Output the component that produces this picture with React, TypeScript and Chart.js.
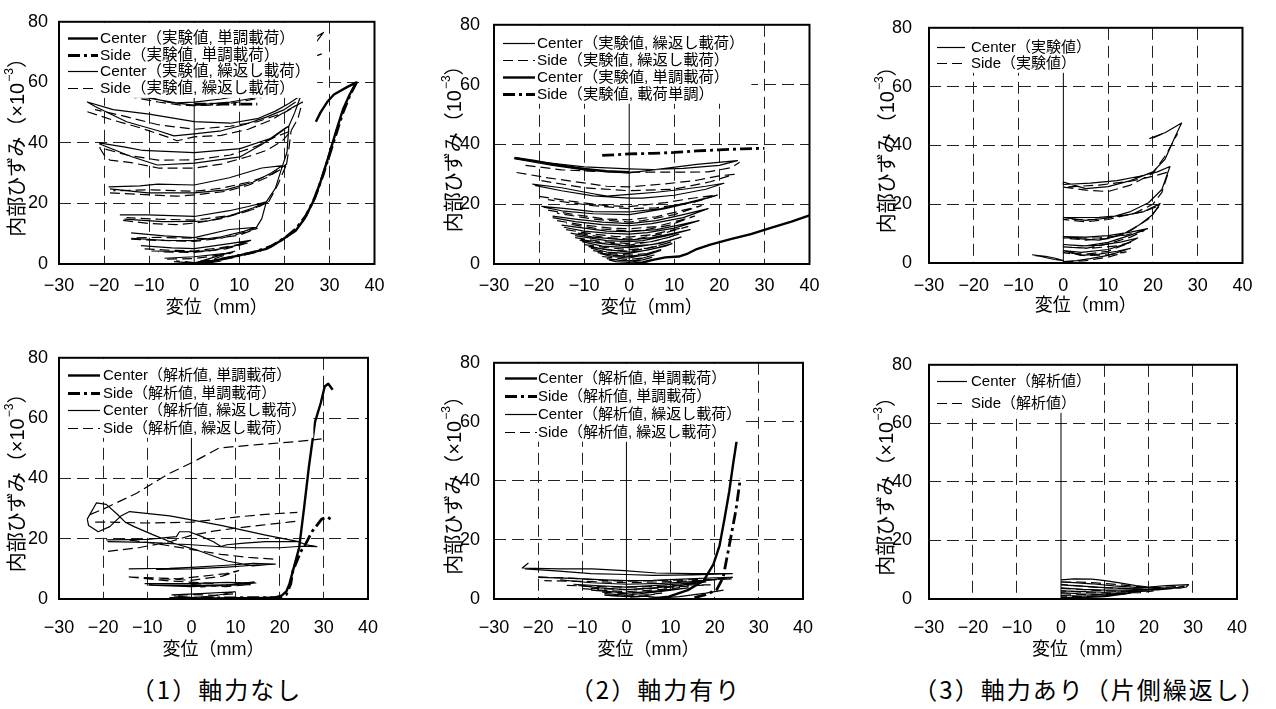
import React, { useEffect, useRef } from "react";
import { Chart, registerables } from "chart.js";
Chart.register(...registerables);

type Pt = [number, number] | null;

const FONT = "'Liberation Sans', 'Noto Sans CJK JP', sans-serif";
const CJK = "'Noto Sans CJK JP', 'Liberation Sans', sans-serif";

// ---------- axis ticks ----------
const xMin = -30, xMax = 40, xStep = 10;
const yMin = 0, yMax = 80, yStep = 20;
const zeroLine: Pt[] = [[0, 0], [0, 80]];

// ---------- legend labels ----------
const labelsP1 = ["Center（実験値, 単調載荷）", "Side（実験値, 単調載荷）", "Center（実験値, 繰返し載荷）", "Side（実験値, 繰返し載荷）"];
const labelsP2 = ["Center（実験値, 繰返し載荷）", "Side（実験値, 繰返し載荷）", "Center（実験値, 単調載荷）", "Side（実験値, 載荷単調）"];
const labelsP3 = ["Center（実験値）", "Side（実験値）"];
const labelsP4 = ["Center（解析値, 単調載荷）", "Side（解析値, 単調載荷）", "Center（解析値, 繰返し載荷）", "Side（解析値, 繰返し載荷）"];
const labelsP6 = ["Center（解析値）", "Side（解析値）"];
const captions = ["（1）軸力なし", "（2）軸力有り", "（3）軸力あり（片側繰返し）"];

// ---------- Panel 1 : experiment, no axial force ----------
const p1CenterMono: Pt[] = [[0,0],[4,1],[8,2.2],[12,3.5],[16,5],[19,7.5],[22.5,11],[24.5,15],[26.5,21],[28,27],[29.8,35.5],[31.5,44],[33,51],[34.5,56],[36,60],[34,58.5],[31,56],[29.5,53.5],[28,50],[27,47]];
const p1SideMono: Pt[] = [[1,0.3],[5,1.3],[9,2.5],[13,3.8],[17,5.8],[20,8.5],[22.5,11.5],[24.8,16],[26.8,22],[28.5,29],[30,36],[31.5,43],[33,50],[34.5,55.5],[36,60],null,[0,52.8],[7,52.8],[14,52.8]];
const p1CenterCyc: Pt[] = [
  [23.5,55.5],[21,53],[18,50.5],[14,48],[8,46.5],[0,47],[-10,49.5],[-18,51],[-23.7,53.5],[-22,52],[-15,47],[-8,44],[-4.5,42.3],[0,43],[6,44],[11,46],[16,48.5],[20,51],[22.5,53.5],null,
  [-16,55.5],[-10,54.8],[-4,53.2],[0,53.5],[6,54.5],[12,56],null,[-12,56],[-6,53.5],[0,52.5],[8,53.5],[14,55],[20,56.5],null,
  [-21.1,40],[-15,38.5],[-11.4,37.5],[0,36.8],[10.2,38.1],[17.5,41.8],[21,45.6],[20.3,45],[15,39.5],[10.2,35.4],[0.1,33.3],[-8.2,32.7],[-14,35.5],[-21.1,39.7],null,
  [21,45.6],[22.3,50],[23.5,55],null,
  [-19,25.5],[-12,25.8],[-8.1,26.4],[0,26.1],[7.8,28.5],[15,31.7],[19.6,32.5],[17,30],[13,27],[7,24.5],[0,23.5],[-10.3,23.5],[-18.7,24.8],null,
  [19.6,32.5],[20.6,37],[21,45.6],null,
  [-16.5,16.2],[-10.3,16.2],[0,15.7],[7.8,17.6],[12,19],[16,20.5],[13,18.5],[8,16],[3,14.2],[0,14.1],[-7,14],[-15.5,14.8],null,
  [16,20.5],[18,25],[19.6,32.5],null,
  [-14,10.3],[-6.6,9.3],[0,8.7],[7.8,11.4],[13.8,12.1],[11,10.8],[6,9],[0,7.7],[-6.6,7.8],[-14,8.5],null,
  [13.8,12.1],[15,15],[16,20.5],null,
  [-11.8,6.1],[-5,5.3],[0,5.1],[7.8,6.7],[12.5,7.8],[9,6],[4,4.5],[0,4.1],[-9.5,4.3],null,
  [-6.6,1.9],[0,2.4],[7,3.5],[9,4.2],[5,2.5],[0,0.3],[-4.5,0.8],null,
  [-3,0.2],[3,0.3],[6,1],null,
  [26.2,74.3],[28.7,76.5],[25.9,71]
];
const p1SideCyc: Pt[] = [
  [-23.7,50.3],[-18,47.5],[-12,45],[-6,42],[-3.8,40.7],[0,42],[6,42.5],[12,44.5],[17,47.5],[21,51],[24,53.5],[20,50],[14,47],[8,45.5],[0,44.5],[-8,46],[-16,49],[-22,51],null,
  [-15,55.5],[-8,53.5],[-3,52.5],[0,52.3],[5,52.5],[10,53.5],[15,55],null,
  [-21,38.5],[-20,36],[-18.7,34.3],[-14,33.5],[-8,31.7],[0,31.7],[6,33],[12,35.5],[16,37.5],[19.6,40.7],[21.5,44],[18,42],[14,39],[8,36],[0,34.4],[-8,34.3],[-15,36],[-21,38.5],null,
  [21.5,44],[23,48],[24,53.5],null,
  [-18.7,23.5],[-12,23],[-3.8,22.4],[0,22.8],[7,24],[12,26],[16,28.5],[19.5,31.5],[20.5,33],[17,29.5],[12,27],[6,25],[0,24],[-10,24.5],[-18,24.2],null,
  [20.5,33],[21,38],[21.5,44],null,
  [-15.8,14.4],[-10,13.4],[-4,13],[0,13.5],[6,15],[12,17.5],[16.5,20.5],[13,18],[8,16],[0,14.5],[-8,14.8],[-15,15.3],null,
  [16.5,20.5],[18.5,26],[20.5,33],null,
  [-14,8.2],[-8,7.8],[0,7.5],[6,8.5],[10,10],[14,11.8],[10,9.5],[4,8.3],[0,8.5],[-8,8.8],[-13.5,8.6],null,
  [-11,5],[-5,4.5],[0,4.3],[6,5.4],[12,7],[7,5],[0,3.8],[-8,4],null,
  [-6,1.6],[0,1.8],[6,3],[8.5,3.8],[4,1.5],[0,0.5],[-4,1],null,
  [-2,0.4],[4,0.5],null,
  [26.6,68.5],[28.3,69.4],null,[26,65.5],[27,66.5]
];

// ---------- Panel 2 : experiment, with axial force ----------
const p2CenterCyc: Pt[] = [
  [-25.5,35.2],[-17,33],[-10,31.5],[0,30.5],[8,32],[15,33.3],[24,34.6],[20,33],[12,32],[5,31.6],[0,31.8],[-10,32.5],[-20,34.2],[-25,35.5],null,
  [-21.5,26.7],[-15,25.5],[-8,23.5],[-4.9,22.7],[0,23.3],[6,24],[12,25],[17,26],[21,27],[17,25],[10,23],[3,22],[0,22],[-8,22.8],[-15,24.5],[-21,26.3],null,
  [-19.5,19.3],[-14,18.5],[-8,17.5],[0,17.4],[7,18.5],[13,20.5],[19.5,23],[15,21],[8,18.5],[0,16.5],[-8,16.8],[-15,17.8],[-19,19],null,
  [-17,16],[-12,15],[-6,14],[0,13.5],[6,14.5],[12,16.5],[17.5,18.5],[12,15.5],[5,13.5],[0,12.8],[-6,13.2],[-12,14.2],[-17,15.5],null,
  [-15,13],[-10,12],[-5,11],[0,10.8],[6,11.5],[11,13],[15.5,14.5],[10,12],[4,10.5],[0,10],[-5,10.3],[-10,11],[-14.5,12.3],null,
  [-13,10.3],[-8,9],[-3,8.3],[0,8],[5,8.8],[10,10.3],[13.5,11.5],[8,9.3],[3,7.8],[0,7.5],[-5,7.8],[-12,9.5],null,
  [-11,8],[-6,6.8],[0,6],[5,6.5],[9,7.8],[11.5,9],[7,7],[2,5.8],[0,5.5],[-6,6],[-10.5,7.5],null,
  [-9,5.8],[-5,4.8],[0,4],[4,4.6],[8,6],[9.5,6.8],[5,5],[0,3.5],[-5,4],[-8.5,5.3],null,
  [-7,3.8],[-3,2.8],[0,2.5],[4,3],[7,4.5],[4,3.2],[0,2],[-4,2.5],[-6.5,3.5],null,
  [-5,1.8],[-2,1.2],[0,1],[3,1.4],[5,2.2],[2,1],[0,0.5],[-3,0.8],[-4.5,1.4]
];
const p2SideCyc: Pt[] = [
  [-23,33],[-15,31.5],[-8,31],[0,30.7],[10,30.7],[17.5,30.8],[22.6,32.2],[24.5,34],null,
  [-25,30.6],[-18,28.8],[-11.4,27.4],[-5,26],[0,25.8],[8,26.8],[15,28],[20,29.5],[23.3,30],[18,27.5],[10,25],[0,24.5],[-10,25.5],[-20,28],null,
  [-20,22.6],[-13,21],[-5,19.5],[0,19.2],[8,20.5],[14,22],[19.6,23.1],[14,20.5],[6,18.8],[0,18.5],[-8,19.5],[-18,21.5],null,
  [-18,18],[-12,16.5],[-5,15],[0,14.8],[6,15.8],[12,18],[16,19.5],[10,16.5],[3,14.5],[0,14],[-8,15],[-16,17],null,
  [-16,14.5],[-10,13],[-4,12],[0,11.8],[6,12.5],[11,14.5],[14.5,16],[9,13],[3,11.3],[0,11],[-7,11.8],[-14,13.5],null,
  [-14,11.5],[-8,10],[-3,9.2],[0,9],[5,9.8],[10,11.5],[13,12.5],[7,10],[2,8.5],[0,8.3],[-6,9],[-12,10.5],null,
  [-12,8.8],[-6,7.5],[0,6.8],[5,7.5],[9,9],[11,10],[6,7.8],[0,6.3],[-6,7],[-11,8.3],null,
  [-10,6.5],[-5,5.5],[0,4.8],[4,5.3],[8,6.8],[9.5,7.5],[5,5.5],[0,4.3],[-5,4.8],[-9,6],null,
  [-8,4.5],[-4,3.5],[0,3],[4,3.5],[7,4.8],[4,3.5],[0,2.5],[-4,3],[-7.5,4],null,
  [-6,2.5],[-2,1.8],[0,1.5],[3,2],[5.5,3],[2,1.6],[0,1],[-3,1.5]
];
const p2CenterMono: Pt[] = [[0,0],[3,0.5],[5,1.3],[8,2.2],[11,2.5],[13,3.5],[15,5],[18,6.5],[22.5,8.3],[27,10],[31.6,12.2],[36,14.2],[40,16.3],null,[-25.5,35.5],[-21,34.5],[-17,33.4],[-10,31.8],[-5,31],[0,30.7]];
const p2SideMono: Pt[] = [[-6,36.3],[0,36.8],[5,37],[10,37.3],[15,37.8],[20,38.2],[25,38.5],[30,38.7]];

// ---------- Panel 3 : experiment, one-sided cycles ----------
const p3Center: Pt[] = [
  [-7,2.8],[-4,2.3],[-2,1.7],[0,0.8],[-2,1.2],[-5,2.2],[-6.5,2.6],null,
  [0,0.5],[3,0.8],[6,1.5],[10,2.6],[13,4],[15,5],[12,4],[8,3],[4,2.6],[0,4.2],[4,3.6],[10,4.6],[14,6.5],[16.6,8.5],[13,7.2],[8,6],[4,5.8],[0,6.3],
  [5,5.8],[10,7],[15,9.5],[18.8,11.7],[15,10.5],[10,9.3],[5,8.8],[0,9],[4,8.2],[8,7.8],[13,9.5],[17,13],[20,16.5],[21.6,20.2],[18,17.5],[14,16.3],[8,15.5],[0,15.4],
  [5,14.5],[10,15.3],[15,17.5],[19,20.5],[22,25],[23.8,32.8],[21,31],[17,29.5],[12,28],[6,27.2],[0,26.7],[0,27.5],[5,25.3],[10,26],[15,28],[20,31],[22.7,35.3],[24.9,42.8],[26.4,47.6],[22.8,44.4],[19.2,42.3]
];
const p3Side: Pt[] = [
  [0,0.3],[5,0.8],[10,2],[14,3.8],[10,2.8],[5,2.5],[0,3.5],[5,3],[10,4],[15,7],[12,5.8],[6,5],[0,5.5],[5,5],[10,6.5],[15,8.8],[18,11],[14,9.5],[8,8.5],[0,8.5],
  [5,7.8],[10,8.3],[15,11],[19,15],[21.5,19.5],[18,17.5],[13,16],[7,14.8],[0,14.8],[5,14],[10,14.8],[16,17],[20,20],[22,24],[23.5,31],[20,29.5],[15,27.8],[8,26.5],[0,25.8],
  [5,24.8],[10,24.3],[15,26.5],[20,30.5],[23,37],[25.5,44],null,[20,42.5],[23,44.5]
];

// ---------- Panel 4 : analysis, no axial force ----------
const p4CenterMono: Pt[] = [[-5,0.3],[0,0.2],[5,0.2],[10,0.3],[15,0.3],[19,0.5],[20.5,1.2],[21.5,2.5],[22.2,5],[23.3,11],[24.4,17],[25.5,30],[26.6,43.7],[28,58.7],[29.3,65],[30.2,70.5],[31,71.4],[32,69.4]];
const p4SideMono: Pt[] = [[-3,0.5],[0,0.3],[10,0.4],[20,0.5],[21.5,1.5],[22.5,5],[23,9.4],[24.8,15.8],[25.8,18],[27.3,22.3],[29.5,26.5],[30.8,27.2],[32,26]];
const p4CenterCyc: Pt[] = [
  [-23.6,26.5],[-21.5,31.9],[-19.3,31.4],[-16.8,28.1],[-15,25.5],[-13,24],[-8.5,21.2],[-4,18.5],[0.9,16.4],[8.1,12.6],[13.9,11],[19,11.6],null,
  [-23.6,26.5],[-23.3,24.4],[-21.1,22.3],[-18.5,24],[-16,27.5],[-14,29],[-4.9,27.6],[6.7,24.4],[16.8,21.2],[24,19.1],null,
  [-19.3,19.6],[-10,19.8],[-3.4,20.7],[-2.7,22.3],[-0.5,22.3],[2.4,20.7],[5,19],[6.7,17.4],[8,18],[12,18.5],[16.8,19],[24,19.1],[26,18],[28.4,17.4],[25,17.5],[20,17],[10,17],[0,18],[-10,18.8],[-19,19],null,
  [-14.2,10],[-5,10.2],[0,10.5],[8,11.2],[14,11.8],[19,11.6],[14,11.2],[8,10.6],[0,10],[-8,9.8],null,
  [-10.6,5.1],[0,5.1],[8,5.5],[14.6,5.3],[10,4.8],[2,4.5],[-9.6,4.6],[0,4.1],[8,4.6],[14.3,5.7],null,
  [-4.5,1.4],[2,1.8],[9.9,2.4],[5,1],[0,0.5],[-4,1]
];
const p4SideCyc: Pt[] = [
  [-23,28],[-20,29.8],[-12.4,35.1],[-5.2,41.5],[0.2,45.3],[6.3,50.1],[15,51.2],[23.7,52.2],[29.5,53.1],null,
  [-21.8,25.5],[-18.9,25.5],[-10,25.2],[0.2,25.5],[9.6,27.1],[16.8,28.1],[24,28.7],null,
  [-18.9,15.8],[-12,17],[-4.9,19],[0.2,21.2],[5,22.5],[10,23.5],[16,24.5],[22,25.5],[24,25.8],null,
  [-14,19.5],[-8.5,18.5],[0.2,16.4],[6.7,14.8],[13,13.8],[19,13.2],null,
  [-14.2,7.3],[-8,7],[-3.1,6.7],[2,7.5],[7.8,8.4],[10.7,9.4],[7,7.6],[0,6.2],[-8,6.8],null,
  [-14.2,7.3],[-5,6],[5.3,5.1],null,
  [0,4.8],[7.8,4.1],[13.5,4.8],[8,4.6],[2,4],null,
  [-3,1.2],[0,1.5],[5,1.2],[10,1.8]
];

// ---------- Panel 5 : analysis, with axial force ----------
const p5CenterMono: Pt[] = [[5,0],[9.6,0.8],[13.9,3],[17.5,6.2],[19.7,11.7],[21.1,18.1],[22.2,27],[23.3,36.5],[24.2,46],[25.1,54.8]];
const p5SideMono: Pt[] = [[15.4,0.5],[18,1.5],[20.4,3],[21.9,7.3],[23.3,18.1],[24.8,30],[25.8,40.8]];
const p5CenterCyc: Pt[] = [
  [-22.2,12.2],[-23.6,10.5],[-15,10.2],[-7.7,10.2],[-0.5,9.6],[6.7,8.8],[15,8.6],[24,8.6],[15,8.2],[6,8],[0,8.3],[-8,8.6],[-16,9.5],[-23,10.2],null,
  [-20,7.3],[-12,7],[-5,6.5],[0,6.2],[6,6.3],[14,6.8],[20,7.2],[24,7.3],[16,6],[8,5.3],[0,5],[-8,5.5],[-15,6.5],null,
  [-12,5],[-5,4.4],[0,4],[6,4.5],[13,5.2],[18,5.8],[12,4.5],[5,3.6],[0,3.2],[-6,3.8],[-11,4.6],null,
  [-8,3],[-3,2.4],[0,2],[5,2.5],[11,3.3],[14,3.8],[8,2.6],[2,1.6],[0,1.3],[-5,1.8],null,
  [-5,1.3],[0,0.8],[4,1],[8,0.4],[12,0.8],[18,2],[22,3],null,
  [26.1,60.2],[26.15,65],[26.2,70]
];
const p5SideCyc: Pt[] = [
  [-20,7.5],[-12,7],[-5,6.3],[0,6],[8,6.3],[16,6.6],[24,6.8],[16,6.2],[8,5.8],[0,5.5],[-10,6],[-18.6,6.2],null,
  [-13.5,4.6],[-6,4.2],[0,4],[8,4.3],[14,4.8],[19,4.8],[12,4.2],[5,3.5],[0,3.2],[-8,3.6],null,
  [-10,3.5],[-4,2.8],[0,2.5],[6,3],[12,3.8],[7,2.6],[0,1.8],[-6,2.4],null,
  [-4,1.2],[0,1],[5,1.5],[8,2],[3,0.8],[0,0.5]
];

// ---------- Panel 6 : analysis, one-sided cycles ----------
const p6Center: Pt[] = [
  [0,6.5],[3,6.9],[7,6.8],[10,6.3],[13,5.6],[17,4.6],[20,4.1],[24,4.6],[29,4.9],[28.5,4.1],[27,3.7],[22,3.8],[17,4],[12,4.5],[7,5.2],[3,5.6],[0,5.8],null,
  [0,4.8],[4,4.5],[9,4],[14,3.6],[20,3.3],[24,3.6],[27,4],[22,3.1],[16,3],[10,3],[5,3.3],[0,3.8],null,
  [0,2.8],[5,2.5],[10,2.3],[15,2.5],[20,3],[15,2],[9,1.6],[4,1.8],[0,2.2],null,
  [0,1.2],[5,1],[10,1.2],[15,1.8],[10,0.8],[5,0.5],[0,0.5]
];
const p6Side: Pt[] = [
  [0,5.8],[4,5.8],[8,5.5],[13,4.9],[18,4.2],[22,3.9],[26,4.2],[28,4.4],[25,3.5],[20,3.3],[14,3.6],[8,4],[3,4.6],[0,5],null,
  [0,3.6],[5,3.2],[10,2.8],[16,2.6],[21,2.8],[18,2.2],[12,2],[6,2.2],[0,2.8],null,
  [0,1.8],[6,1.5],[12,1.6],[16,2],[10,1],[4,0.8],[0,1]
];

// ---------- styles / layout ----------
type Kind = "thickSolid" | "thickDash" | "thinSolid" | "thinDash";
const STYLE: Record<Kind, { w: number; dash: number[] }> = {
  thickSolid: { w: 2.4, dash: [] },
  thickDash: { w: 2.8, dash: [12, 4, 3, 4] },
  thinSolid: { w: 1.2, dash: [] },
  thinDash: { w: 1.2, dash: [10, 5] },
};

interface LegendCfg { first: number; gap: number; sx: number; len: number; tx: number; size: number; pad: number; }
interface PanelCfg {
  left: number; top: number; right: number; bottom: number;
  yPre: string; yTitleOff: number; yTickPad: number; xTickPad: number; xTitlePad: number;
  legend: LegendCfg;
  series: { label: string; kind: Kind; data: Pt[] }[];
}

const PANELS: PanelCfg[] = [
  { left: 59, top: 14, right: 382, bottom: 264, yPre: "内部ひずみ（×10", yTitleOff: 41, yTickPad: 11, xTickPad: 11.5, xTitlePad: 15,
    legend: { first: 16, gap: 16.7, sx: 9, len: 30, tx: 41, size: 15.5, pad: 6 },
    series: [
      { label: labelsP1[0], kind: "thickSolid", data: p1CenterMono },
      { label: labelsP1[1], kind: "thickDash", data: p1SideMono },
      { label: labelsP1[2], kind: "thinSolid", data: p1CenterCyc },
      { label: labelsP1[3], kind: "thinDash", data: p1SideCyc },
    ] },
  { left: 494, top: 14, right: 817, bottom: 264, yPre: "内部ひずみ（10", yTitleOff: 39, yTickPad: 14, xTickPad: 11.5, xTitlePad: 15,
    legend: { first: 18, gap: 17, sx: 9, len: 32, tx: 43, size: 15.3, pad: 6 },
    series: [
      { label: labelsP2[0], kind: "thinSolid", data: p2CenterCyc },
      { label: labelsP2[1], kind: "thinDash", data: p2SideCyc },
      { label: labelsP2[2], kind: "thickSolid", data: p2CenterMono },
      { label: labelsP2[3], kind: "thickDash", data: p2SideMono },
    ] },
  { left: 929, top: 14, right: 1251, bottom: 263, yPre: "内部ひずみ（10", yTitleOff: 41, yTickPad: 17, xTickPad: 12.5, xTitlePad: 16,
    legend: { first: 19, gap: 16, sx: 8, len: 28, tx: 42, size: 15, pad: 6 },
    series: [
      { label: labelsP3[0], kind: "thinSolid", data: p3Center },
      { label: labelsP3[1], kind: "thinDash", data: p3Side },
    ] },
  { left: 59, top: 350, right: 382, bottom: 599, yPre: "内部ひずみ（×10", yTitleOff: 41, yTickPad: 11, xTickPad: 18, xTitlePad: 8,
    legend: { first: 17, gap: 17.7, sx: 9, len: 32, tx: 44, size: 15, pad: 6 },
    series: [
      { label: labelsP4[0], kind: "thickSolid", data: p4CenterMono },
      { label: labelsP4[1], kind: "thickDash", data: p4SideMono },
      { label: labelsP4[2], kind: "thinSolid", data: p4CenterCyc },
      { label: labelsP4[3], kind: "thinDash", data: p4SideCyc },
    ] },
  { left: 494, top: 352, right: 817, bottom: 599, yPre: "内部ひずみ（×10", yTitleOff: 39, yTickPad: 14, xTickPad: 18, xTitlePad: 8,
    legend: { first: 15, gap: 18, sx: 11, len: 32, tx: 44, size: 15, pad: 3 },
    series: [
      { label: labelsP4[0], kind: "thickSolid", data: p5CenterMono },
      { label: labelsP4[1], kind: "thickDash", data: p5SideMono },
      { label: labelsP4[2], kind: "thinSolid", data: p5CenterCyc },
      { label: labelsP4[3], kind: "thinDash", data: p5SideCyc },
    ] },
  { left: 929, top: 351, right: 1251, bottom: 599, yPre: "内部ひずみ（×10", yTitleOff: 42, yTickPad: 17, xTickPad: 18, xTitlePad: 8,
    legend: { first: 16, gap: 22, sx: 8, len: 30, tx: 42, size: 15, pad: 6 },
    series: [
      { label: labelsP6[0], kind: "thinSolid", data: p6Center },
      { label: labelsP6[1], kind: "thinDash", data: p6Side },
    ] },
];

const PAD_L = 60, PAD_T = 14, PAD_R = 14, PAD_B = 70;

const toXY = (pts: Pt[]) => pts.map((p) => (p ? { x: p[0], y: p[1] } : { x: NaN, y: NaN }));
const fmt = (v: number) => (v < 0 ? "\u2212" + Math.abs(v) : String(v));

function Panel({ cfg }: { cfg: PanelCfg }) {
  const ref = useRef<HTMLCanvasElement>(null);
  const w = cfg.right - cfg.left + PAD_L + PAD_R;
  const h = cfg.bottom - cfg.top + PAD_T + PAD_B;

  useEffect(() => {
    if (!ref.current) return;
    const deco = {
      id: "deco",
      afterDatasetsDraw(chart: any) {
        const { ctx, chartArea: a } = chart;
        const L = cfg.legend;
        const items = chart.data.datasets.filter((d: any) => d.label);
        ctx.save();
        ctx.font = L.size + "px " + FONT;
        let maxW = 0;
        items.forEach((d: any) => { maxW = Math.max(maxW, ctx.measureText(d.label).width); });
        const boxW = L.tx + maxW + L.pad;
        const boxH = L.first + L.gap * (items.length - 1) + 9;
        ctx.fillStyle = "#fff";
        ctx.fillRect(a.left + 1, a.top + 1, boxW, boxH);
        items.forEach((d: any, i: number) => {
          const y = Math.round(a.top + L.first + L.gap * i) + 0.5;
          ctx.beginPath();
          ctx.setLineDash(d.borderDash || []);
          ctx.lineWidth = d.borderWidth;
          ctx.strokeStyle = "#000";
          ctx.moveTo(a.left + L.sx, y);
          ctx.lineTo(a.left + L.sx + L.len, y);
          ctx.stroke();
          ctx.setLineDash([]);
          ctx.fillStyle = "#000";
          ctx.textAlign = "left";
          ctx.textBaseline = "middle";
          ctx.fillText(d.label, a.left + L.tx, y);
        });
        ctx.restore();
      },
      afterDraw(chart: any) {
        const { ctx, chartArea: a } = chart;
        ctx.save();
        ctx.strokeStyle = "#000";
        ctx.lineWidth = 2;
        ctx.setLineDash([]);
        ctx.strokeRect(a.left, a.top, a.right - a.left, a.bottom - a.top);
        // y title with superscript exponent
        const cx = a.left - cfg.yTitleOff;
        const cy = (a.top + a.bottom) / 2;
        ctx.translate(cx, cy);
        ctx.rotate(-Math.PI / 2);
        const big = "20px " + FONT;
        const small = "12px " + FONT;
        ctx.font = big;
        const w1 = ctx.measureText(cfg.yPre).width;
        const w3 = ctx.measureText("）").width;
        ctx.font = small;
        const w2 = ctx.measureText("\u22123").width;
        let x = -(w1 + w2 + w3) / 2;
        ctx.fillStyle = "#000";
        ctx.textAlign = "left";
        ctx.textBaseline = "middle";
        ctx.font = big;
        ctx.fillText(cfg.yPre, x, 0);
        x += w1;
        ctx.font = small;
        ctx.fillText("\u22123", x + 1, -8);
        x += w2 + 1;
        ctx.font = big;
        ctx.fillText("）", x, 0);
        ctx.restore();
      },
    };

    const datasets: any[] = [
      { data: toXY(zeroLine), showLine: true, borderColor: "#000", borderWidth: 1, pointRadius: 0, spanGaps: false },
      ...cfg.series.map((s) => ({
        label: s.label,
        data: toXY(s.data),
        showLine: true,
        borderColor: "#000",
        borderWidth: STYLE[s.kind].w,
        borderDash: STYLE[s.kind].dash,
        borderJoinStyle: "round",
        pointRadius: 0,
        pointHoverRadius: 0,
        spanGaps: false,
        tension: 0,
        fill: false,
      })),
    ];

    const gridColor = (edges: number[]) => (c: any) =>
      c.tick && edges.includes(c.tick.value) ? "rgba(0,0,0,0)" : "#222";

    const chart = new Chart(ref.current, {
      type: "scatter",
      data: { datasets },
      options: {
        responsive: false,
        maintainAspectRatio: false,
        animation: false,
        events: [],
        layout: { padding: { left: 0, top: PAD_T, right: PAD_R, bottom: 0 } },
        plugins: { legend: { display: false }, tooltip: { enabled: false } },
        scales: {
          x: {
            type: "linear", min: xMin, max: xMax,
            ticks: { stepSize: xStep, padding: cfg.xTickPad, color: "#000", font: { family: FONT, size: 18 }, callback: (v: any) => fmt(Number(v)) },
            grid: { color: gridColor([-30, 0, 40]), lineWidth: 1, drawTicks: false },
            border: { display: false, dash: [12, 6] },
            title: { display: true, text: "変位（mm）", color: "#000", font: { family: FONT, size: 18 }, padding: { top: 0, bottom: cfg.xTitlePad } },
            afterFit: (s: any) => { s.height = PAD_B; },
          },
          y: {
            type: "linear", min: yMin, max: yMax,
            ticks: { stepSize: yStep, padding: cfg.yTickPad, color: "#000", font: { family: FONT, size: 18 }, callback: (v: any) => fmt(Number(v)) },
            grid: { color: gridColor([0, 80]), lineWidth: 1, drawTicks: false },
            border: { display: false, dash: [12, 6] },
            afterFit: (s: any) => { s.width = PAD_L; },
          },
        },
      } as any,
      plugins: [deco],
    });
    return () => chart.destroy();
  }, [cfg]);

  return (
    <canvas
      ref={ref}
      width={w}
      height={h}
      style={{ position: "absolute", left: cfg.left - PAD_L, top: cfg.top - PAD_T, width: w, height: h }}
    />
  );
}

export default function App() {
  useEffect(() => {
    document.body.style.margin = "0";
    document.body.style.background = "#fff";
  }, []);
  const capCenters = [
    (PANELS[0].left + PANELS[0].right) / 2 - 4,
    (PANELS[1].left + PANELS[1].right) / 2,
    (PANELS[2].left + PANELS[2].right) / 2,
  ];
  return (
    <div style={{ position: "relative", width: 1276, height: 709, background: "#fff", overflow: "hidden" }}>
      {PANELS.map((p, i) => (
        <Panel key={i} cfg={p} />
      ))}
      {captions.map((c, i) => (
        <div
          key={"c" + i}
          style={{
            position: "absolute", left: capCenters[i] - 250, width: 500, top: 672, height: 34, lineHeight: "34px",
            textAlign: "center", fontFamily: CJK, fontSize: 24, letterSpacing: 2, color: "#000", whiteSpace: "nowrap",
          }}
        >
          {c}
        </div>
      ))}
    </div>
  );
}
